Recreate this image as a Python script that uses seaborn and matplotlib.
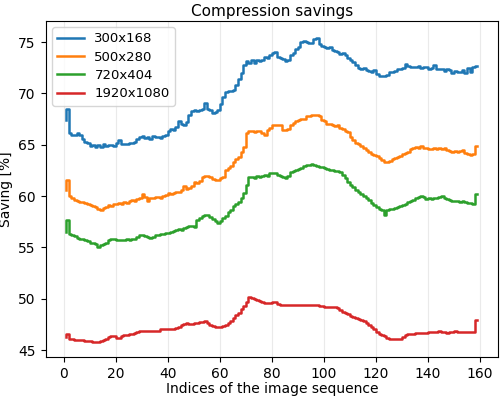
import matplotlib
matplotlib.use("Agg")
import matplotlib.pyplot as plt
import seaborn as sns
import pandas as pd

# Compression savings per image index
indices = list(range(1, 160))

res_300 = [
    67.4, 68.5, 66.1, 66.0, 66.0, 66.1, 66.0, 65.6, 65.3, 65.2,
    64.9, 65.0, 64.8, 65.0, 64.8, 65.1, 64.9, 65.0, 65.0, 64.9,
    65.2, 65.5, 65.1, 65.1, 65.1, 65.2, 65.2, 65.3, 65.6, 65.8,
    65.9, 65.7, 65.8, 65.6, 65.9, 65.8, 65.8, 65.7, 65.9, 66.0,
    66.3, 66.5, 66.4, 66.7, 67.3, 67.0, 66.9, 67.2, 67.9, 68.3,
    68.4, 68.3, 68.4, 68.5, 69.1, 68.5, 68.4, 68.1, 68.2, 68.4,
    69.0, 69.7, 70.1, 70.2, 70.2, 70.3, 70.8, 71.4, 72.0, 72.8,
    73.2, 73.0, 73.3, 73.0, 73.3, 73.2, 73.3, 73.6, 73.5, 73.7,
    73.9, 74.0, 73.6, 73.5, 73.4, 73.2, 73.3, 73.7, 73.9, 74.3,
    74.5, 75.0, 75.1, 75.0, 74.9, 74.9, 75.3, 75.4, 74.8, 74.6,
    74.5, 74.4, 74.5, 74.2, 74.1, 74.0, 73.8, 73.9, 73.7, 73.5,
    73.3, 73.1, 72.8, 72.5, 72.4, 72.5, 72.3, 72.2, 72.1, 72.3,
    71.9, 71.7, 71.7, 71.7, 71.8, 72.1, 72.1, 72.2, 72.4, 72.4,
    72.5, 72.9, 72.7, 72.6, 72.6, 72.6, 72.7, 72.5, 72.6, 72.6,
    72.4, 72.5, 72.8, 72.4, 72.4, 72.4, 72.2, 72.4, 72.3, 72.0,
    72.2, 72.1, 72.1, 72.3, 72.0, 72.5, 72.1, 72.6, 72.7,
]

res_500 = [
    60.6, 61.6, 60.0, 59.8, 59.6, 59.5, 59.4, 59.4, 59.3, 59.2,
    59.1, 59.0, 58.9, 58.7, 58.6, 58.8, 58.9, 59.1, 59.0, 59.2,
    59.2, 59.3, 59.2, 59.4, 59.3, 59.5, 59.6, 59.5, 59.7, 59.8,
    60.2, 59.9, 59.5, 59.8, 59.8, 59.9, 59.9, 59.8, 60.0, 60.1,
    60.3, 60.2, 60.3, 60.4, 60.4, 60.6, 61.0, 60.7, 60.8, 61.0,
    61.4, 61.3, 61.5, 61.9, 62.0, 62.0, 61.9, 61.7, 61.6, 61.6,
    61.8, 61.9, 62.5, 62.7, 62.9, 63.3, 63.6, 63.8, 64.3, 64.8,
    66.1, 66.3, 66.3, 66.2, 66.3, 66.3, 66.1, 66.0, 66.4, 66.6,
    66.9, 66.9, 66.9, 66.9, 66.4, 66.4, 66.5, 66.9, 67.1, 67.3,
    67.4, 67.5, 67.5, 67.8, 67.8, 67.9, 67.9, 67.9, 67.8, 67.4,
    67.3, 67.0, 67.0, 66.9, 66.8, 66.9, 66.6, 66.5, 66.3, 66.2,
    65.8, 65.5, 65.2, 65.1, 64.9, 64.7, 64.5, 64.3, 64.1, 64.0,
    63.9, 63.7, 63.5, 63.3, 63.3, 63.4, 63.6, 63.7, 63.8, 63.9,
    64.1, 64.2, 64.3, 64.6, 64.7, 64.8, 64.7, 64.9, 64.7, 64.7,
    64.6, 64.6, 64.7, 64.6, 64.7, 64.6, 64.7, 64.5, 64.4, 64.3,
    64.4, 64.3, 64.4, 64.5, 64.2, 64.1, 64.0, 64.1, 64.9,
]

res_720 = [
    56.5, 57.7, 56.3, 56.2, 56.1, 55.9, 55.8, 55.8, 55.7, 55.6,
    55.4, 55.4, 55.3, 55.0, 55.2, 55.3, 55.4, 55.7, 55.8, 55.8,
    55.7, 55.7, 55.7, 55.7, 55.8, 55.7, 55.8, 55.8, 56.0, 56.2,
    56.2, 56.1, 56.0, 55.9, 56.0, 56.2, 56.2, 56.3, 56.3, 56.4,
    56.4, 56.5, 56.6, 56.7, 56.8, 56.7, 56.9, 57.0, 57.1, 57.1,
    57.0, 57.7, 57.9, 58.1, 58.2, 58.2, 58.0, 57.8, 57.6, 57.4,
    57.6, 57.9, 58.1, 58.4, 58.6, 59.0, 59.2, 59.4, 59.8, 60.3,
    61.1, 61.9, 61.9, 61.8, 62.0, 61.9, 62.0, 62.1, 62.0, 62.2,
    62.2, 62.2, 62.1, 62.0, 61.9, 61.8, 62.0, 62.3, 62.4, 62.5,
    62.6, 62.7, 62.9, 63.0, 63.0, 63.1, 63.0, 62.9, 62.8, 62.8,
    62.7, 62.6, 62.5, 62.5, 62.4, 62.4, 62.3, 62.1, 61.8, 61.4,
    61.1, 60.9, 60.6, 60.4, 60.2, 60.0, 59.8, 59.6, 59.3, 59.1,
    58.9, 58.7, 58.6, 58.2, 58.6, 58.7, 58.7, 58.8, 58.9, 59.0,
    59.1, 59.2, 59.4, 59.5, 59.6, 59.8, 59.9, 60.0, 59.9, 59.7,
    59.8, 59.7, 59.8, 59.8, 59.9, 60.0, 59.8, 59.7, 59.6, 59.5,
    59.5, 59.5, 59.4, 59.5, 59.4, 59.3, 59.3, 59.2, 60.2,
]

res_1920 = [
    46.3, 46.6, 46.1, 46.1, 46.0, 46.0, 46.0, 46.0, 45.9, 45.9,
    45.9, 45.8, 45.8, 45.8, 45.9, 46.0, 46.1, 46.3, 46.4, 46.4,
    46.2, 46.2, 46.4, 46.5, 46.5, 46.6, 46.6, 46.7, 46.8, 46.9,
    46.9, 46.9, 46.9, 46.9, 46.9, 46.9, 46.9, 47.0, 47.0, 47.0,
    47.0, 47.0, 47.0, 47.1, 47.2, 47.4, 47.5, 47.6, 47.5, 47.5,
    47.6, 47.6, 47.7, 47.7, 47.8, 47.6, 47.4, 47.3, 47.2, 47.2,
    47.2, 47.3, 47.4, 47.6, 47.8, 48.1, 48.4, 48.6, 49.0, 49.3,
    49.7, 50.2, 50.1, 50.0, 49.9, 49.8, 49.7, 49.6, 49.6, 49.6,
    49.7, 49.7, 49.5, 49.4, 49.4, 49.4, 49.4, 49.4, 49.4, 49.4,
    49.4, 49.4, 49.4, 49.4, 49.4, 49.4, 49.4, 49.4, 49.3, 49.3,
    49.2, 49.2, 49.2, 49.2, 49.2, 49.1, 48.9, 48.7, 48.6, 48.5,
    48.3, 48.2, 48.1, 48.0, 47.9, 47.8, 47.6, 47.4, 47.2, 47.0,
    46.8, 46.6, 46.5, 46.4, 46.2, 46.1, 46.1, 46.1, 46.1, 46.1,
    46.3, 46.5, 46.6, 46.6, 46.6, 46.7, 46.7, 46.7, 46.7, 46.7,
    46.8, 46.8, 46.8, 46.8, 46.9, 46.8, 46.8, 46.7, 46.8, 46.8,
    46.9, 46.8, 46.8, 46.8, 46.8, 46.8, 46.8, 46.8, 47.9,
]

labels = ["300x168", "500x280", "720x404", "1920x1080"]

# long-form table for seaborn
frames = []
for lab, vals in zip(labels, [res_300, res_500, res_720, res_1920]):
    frames.append(pd.DataFrame({"index": indices, "saving": vals, "resolution": lab}))
df = pd.concat(frames, ignore_index=True)

fig = plt.figure(figsize=(5.01, 3.96), dpi=100)
ax = fig.add_axes([0.091, 0.098, 0.903, 0.850])

sns.lineplot(data=df, x="index", y="saving", hue="resolution",
             palette="tab10", drawstyle="steps-pre", linewidth=1.8,
             errorbar=None, ax=ax)

ax.set_title("Compression savings", fontsize=11, pad=3)
ax.set_xlabel("Indices of the image sequence", labelpad=1)
ax.set_ylabel("Saving [%]")
ax.set_xticks(range(0, 161, 20))
ax.set_yticks(range(45, 76, 5))
ax.set_ylim(44.3, 77.1)
ax.grid(axis="x", color="#dddddd", linewidth=0.8, alpha=0.6)
ax.legend(loc="upper left", title=None, fontsize=9.5, labelspacing=0.4)

fig.savefig("out.png", dpi=100)
